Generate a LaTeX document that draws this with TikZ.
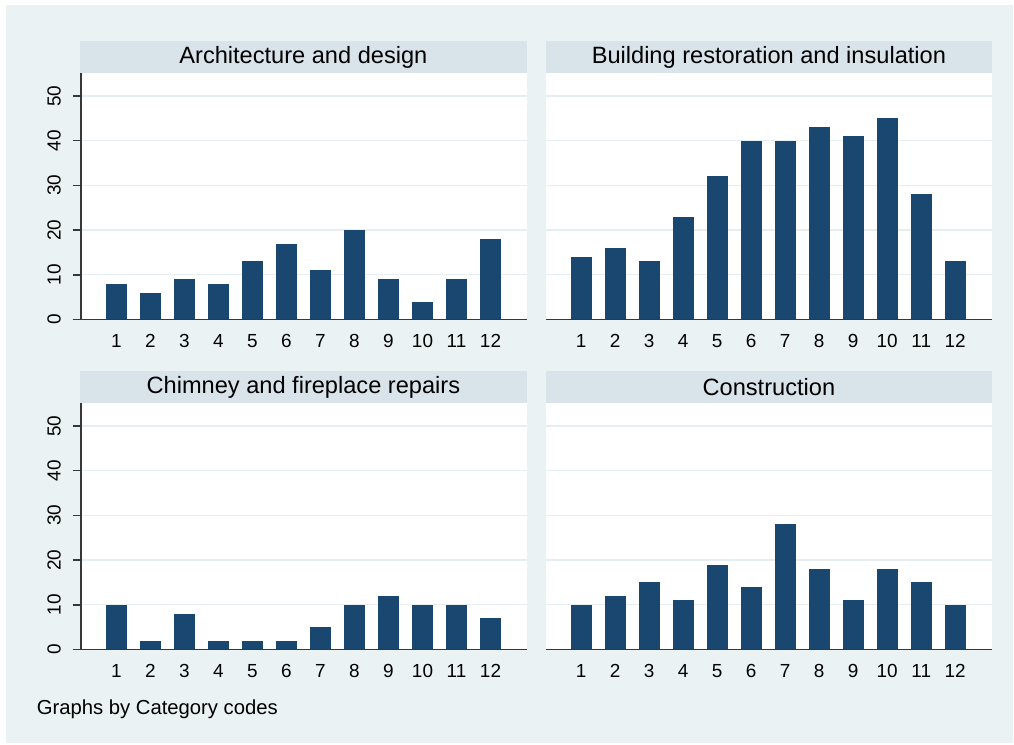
\documentclass[tikz,border=0pt]{standalone}
\usepackage{fontspec}
\setmainfont{Liberation Sans}
\definecolor{bgblue}{RGB}{234,242,243}
\definecolor{stripblue}{RGB}{217,228,234}
\definecolor{barnavy}{RGB}{26,71,111}
\definecolor{gridblue}{RGB}{230,238,242}
\definecolor{axisgray}{RGB}{55,55,55}
\tikzset{
  barfill/.style={fill=barnavy,draw=none},
  gridln/.style={draw=gridblue,line width=1pt},
  axisln/.style={draw=axisgray,line width=1.1pt},
  stripbox/.style={fill=stripblue,draw=none},
  titlelab/.style={inner sep=0.75pt,font=\fontsize{17.7}{20}\selectfont},
  ticklab/.style={inner sep=0.75pt,text height=10.1pt,text depth=0pt,font=\fontsize{14.2}{16}\selectfont},
  notelab/.style={inner sep=0pt,anchor=west,font=\fontsize{15.2}{17}\selectfont},
}

\begin{document}
\begin{tikzpicture}[x=0.75pt,y=0.75pt,yscale=-1,xscale=1]
\useasboundingbox (0,0) rectangle (1014,745);

%Shape: Rectangle [background]
\fill[bgblue] (6,5) rectangle (1013,743);

%Panel: Architecture and design
\fill[stripbox] (80,41) rectangle (526.7,73);
\fill[white] (81,73) rectangle (526.7,319.5);
\foreach \v in {10,20,...,50} \draw[gridln] (81,319.5-4.47*\v) -- (526.7,319.5-4.47*\v);
\foreach \h [count=\i] in {8,6,9,8,13,17,11,20,9,4,9,18}
  \fill[barfill] ({116.5+34*(\i-1)-10.5},319.5) rectangle ({116.5+34*(\i-1)+10.5},{319.5-4.47*\h});
\draw[axisln] (81,73) -- (81,319.5);
\draw[axisln] (72.7,319.5) -- (526.7,319.5);
\foreach \v in {0,10,...,50} {
  \draw[axisln] (72.7,319.5-4.47*\v) -- (81,319.5-4.47*\v);
  \node[ticklab,rotate=90] (ya\v) at (54,319.5-4.47*\v) {\v};
}
\foreach \i in {1,...,12} \node[ticklab] (xa\i) at ({116.5+34*(\i-1)},340.5) {\i};
% Text Node
\node[titlelab] (ta) at (303.4,57) {Architecture and design};

%Panel: Building restoration and insulation
\fill[stripbox] (545.7,41) rectangle (992,73);
\fill[white] (545.7,73) rectangle (992,319.5);
\foreach \v in {10,20,...,50} \draw[gridln] (545.7,319.5-4.47*\v) -- (992,319.5-4.47*\v);
\foreach \h [count=\i] in {14,16,13,23,32,40,40,43,41,45,28,13}
  \fill[barfill] ({581.2+34*(\i-1)-10.5},319.5) rectangle ({581.2+34*(\i-1)+10.5},{319.5-4.47*\h});
\draw[axisln] (545.7,319.5) -- (992,319.5);
\foreach \i in {1,...,12} \node[ticklab] (xb\i) at ({581.2+34*(\i-1)},340.5) {\i};
% Text Node
\node[titlelab] (tb) at (768.9,57) {Building restoration and insulation};

%Panel: Chimney and fireplace repairs
\fill[stripbox] (80,371) rectangle (526.7,403);
\fill[white] (81,403) rectangle (526.7,649.5);
\foreach \v in {10,20,...,50} \draw[gridln] (81,649.5-4.47*\v) -- (526.7,649.5-4.47*\v);
\foreach \h [count=\i] in {10,2,8,2,2,2,5,10,12,10,10,7}
  \fill[barfill] ({116.5+34*(\i-1)-10.5},649.5) rectangle ({116.5+34*(\i-1)+10.5},{649.5-4.47*\h});
\draw[axisln] (81,403) -- (81,649.5);
\draw[axisln] (72.7,649.5) -- (526.7,649.5);
\foreach \v in {0,10,...,50} {
  \draw[axisln] (72.7,649.5-4.47*\v) -- (81,649.5-4.47*\v);
  \node[ticklab,rotate=90] (yc\v) at (54,649.5-4.47*\v) {\v};
}
\foreach \i in {1,...,12} \node[ticklab] (xc\i) at ({116.5+34*(\i-1)},670.5) {\i};
% Text Node
\node[titlelab] (tc) at (303.4,387) {Chimney and fireplace repairs};

%Panel: Construction
\fill[stripbox] (545.7,371) rectangle (992,403);
\fill[white] (545.7,403) rectangle (992,649.5);
\foreach \v in {10,20,...,50} \draw[gridln] (545.7,649.5-4.47*\v) -- (992,649.5-4.47*\v);
\foreach \h [count=\i] in {10,12,15,11,19,14,28,18,11,18,15,10}
  \fill[barfill] ({581.2+34*(\i-1)-10.5},649.5) rectangle ({581.2+34*(\i-1)+10.5},{649.5-4.47*\h});
\draw[axisln] (545.7,649.5) -- (992,649.5);
\foreach \i in {1,...,12} \node[ticklab] (xd\i) at ({581.2+34*(\i-1)},670.5) {\i};
% Text Node
\node[titlelab] (td) at (768.9,387) {Construction};

% Text Node
\node[notelab] (note) at (36.5,709) {Graphs by Category codes};

\end{tikzpicture}
\end{document}
